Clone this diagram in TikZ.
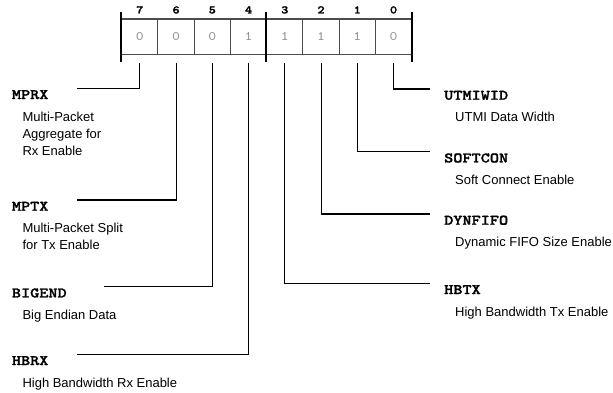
\documentclass[tikz,border=0pt]{standalone}
\usepackage{fontspec}
\setmainfont{Liberation Sans}
\newfontfamily\fieldfont[FakeStretch=1.2, FakeBold=1.6]{lmmonolt10-bold.otf}
\newfontfamily\valuefont[FakeStretch=1.15]{lmmono10-regular.otf}
\usetikzlibrary{positioning}

\begin{document}
\begin{tikzpicture}[x=1pt, y=-1pt,
  cell/.style={draw=black!70, line width=1.1pt, minimum width=36.25pt,
    minimum height=35.3pt, inner sep=0pt, text=black!45,
    font=\valuefont\fontsize{13}{13}\selectfont},
  bitnum/.style={font=\fieldfont\fontsize{11.5}{11.5}\selectfont,
    anchor=base, inner sep=0pt},
  bar/.style={line width=2.4pt},
  lead/.style={line width=1.1pt},
  fname/.style={font=\fieldfont\fontsize{14.5}{14.5}\selectfont,
    anchor=base west, inner sep=0pt},
  fdesc/.style={font=\fontsize{13}{17}\selectfont, align=left,
    anchor=north west, inner sep=0pt}
]
\useasboundingbox (0,0) rectangle (613,392);
% register cells, bit 7 on the left
\foreach \b/\v [count=\i from 0] in {7/0,6/0,5/0,4/1,3/1,2/1,1/1,0/0} {
  \node[cell] (b\b) at ({139.8+36.25*\i},36.65) {\v};
  \node[bitnum] (n\b) at ([yshift=5pt]b\b.north) {\b};
}
\foreach \b in {7,3}
  \draw[bar] ([yshift=6.7pt]b\b.north west) -- ([yshift=-6.7pt]b\b.south west);
\draw[bar] ([yshift=6.7pt]b0.north east) -- ([yshift=-6.7pt]b0.south east);
% fields on the left
\foreach \b/\nm/\y/\ex/\txt in {
    7/MPRX/88.3/77/{Multi-Packet\\Aggregate for\\Rx Enable},
    6/MPTX/200/77/{Multi-Packet Split\\for Tx Enable},
    5/BIGEND/286.7/104/{Big Endian Data},
    4/HBRX/354.3/77/{High Bandwidth Rx Enable}} {
  \coordinate (e\b) at (\ex,\y);
  \node[fname] (f\b) at (11.7,\y+10.7) {\nm};
  \node[fdesc] (d\b) at (22.3,\y+23.2) {\txt};
  \draw[lead] ([yshift=-8pt]b\b.south) |- (e\b);
}
% fields on the right
\foreach \b/\nm/\y/\txt in {
    0/UTMIWID/89/{UTMI Data Width},
    1/SOFTCON/151.7/{Soft Connect Enable},
    2/DYNFIFO/214/{Dynamic FIFO Size Enable},
    3/HBTX/283.3/{High Bandwidth Tx Enable}} {
  \coordinate (e\b) at (430,\y);
  \node[fname] (f\b) at (444,\y+10.7) {\nm};
  \node[fdesc] (d\b) at (455,\y+23.2) {\txt};
  \draw[lead] ([yshift=-8pt]b\b.south) |- (e\b);
}
\end{tikzpicture}
\end{document}
